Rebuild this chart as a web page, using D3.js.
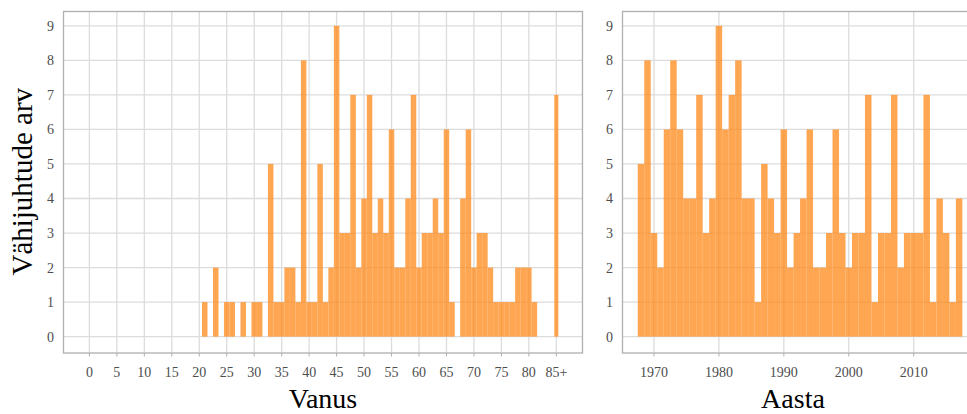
<!DOCTYPE html>
<html><head><meta charset="utf-8">
<script src="https://cdn.jsdelivr.net/npm/d3@7"></script>
<style>body{margin:0;background:#fff}</style>
</head><body>
<svg id="c" width="967" height="414"></svg>
<script>
// Left panel: age (85 = "85+")
const ageBins = [21,22,23,24,25,26,27,28,29,30,31,32,33,34,35,36,37,38,39,40,41,42,43,44,45,46,47,48,49,50,51,52,53,54,55,56,57,58,59,60,61,62,63,64,65,66,67,68,69,70,71,72,73,74,75,76,77,78,79,80,81,85];
const ageCounts = [1,0,2,0,1,1,0,1,0,1,1,0,5,1,1,2,2,1,8,1,1,5,1,2,9,3,3,7,2,4,7,3,4,3,6,2,2,4,7,2,3,3,4,3,6,1,0,4,6,2,3,3,2,1,1,1,1,2,2,2,1,7];
const ageTicks = [0,5,10,15,20,25,30,35,40,45,50,55,60,65,70,75,80,85];
const ageTickLabels = ["0","5","10","15","20","25","30","35","40","45","50","55","60","65","70","75","80","85+"];

// Right panel: year
const yearBins = [1968,1969,1970,1971,1972,1973,1974,1975,1976,1977,1978,1979,1980,1981,1982,1983,1984,1985,1986,1987,1988,1989,1990,1991,1992,1993,1994,1995,1996,1997,1998,1999,2000,2001,2002,2003,2004,2005,2006,2007,2008,2009,2010,2011,2012,2013,2014,2015,2016,2017];
const yearCounts = [5,8,3,2,6,8,6,4,4,7,3,4,9,6,7,8,4,4,1,5,4,3,6,2,3,4,6,2,2,3,6,3,2,3,3,7,1,3,3,7,2,3,3,3,7,1,4,3,1,4];
const yearTicks = [1970,1980,1990,2000,2010];

const countTicks = [0,1,2,3,4,5,6,7,8,9];
const yTitle = "Vähijuhtude arv";
const xTitleLeft = "Vanus";
const xTitleRight = "Aasta";

const svg = d3.select("#c");
const pTop = 11, pBottom = 352.5;
const y = d3.scaleLinear().domain([-0.46, 9.43]).range([pBottom, pTop]);

const gridCol = "#dcdcdc", borderCol = "#b0b0b0", labCol = "#4d4d4d";
const barFill = "#ff8a1c", barOp = 0.76;
const serif = "'Liberation Serif','Times New Roman',serif";

function panel(x, bins, counts, ticks, labels, left, right, borderRight, title, narrowLast) {
  const g = svg.append("g");
  g.selectAll("line.h").data(countTicks).join("line")
    .attr("x1", left).attr("x2", borderRight)
    .attr("y1", d => y(d)).attr("y2", d => y(d))
    .attr("stroke", gridCol).attr("stroke-width", 1.3);
  g.selectAll("line.v").data(ticks).join("line")
    .attr("y1", pTop).attr("y2", pBottom)
    .attr("x1", d => x(d)).attr("x2", d => x(d))
    .attr("stroke", gridCol).attr("stroke-width", 1.3);
  const data = bins.map((b, i) => ({b, c: counts[i], last: narrowLast && i === bins.length - 1}));
  g.selectAll("rect.bar").data(data.filter(d => d.c > 0)).join("rect")
    .attr("x", d => d.last ? x(d.b - 0.37) : x(d.b - 0.5))
    .attr("width", d => d.last ? x(d.b + 0.37) - x(d.b - 0.37) : x(d.b + 0.5) - x(d.b - 0.5))
    .attr("y", d => y(d.c)).attr("height", d => y(0) - y(d.c))
    .attr("fill", barFill).attr("fill-opacity", barOp);
  g.append("rect").attr("x", left + 0.5).attr("y", pTop + 0.5)
    .attr("width", borderRight - left - 1).attr("height", pBottom - pTop)
    .attr("fill", "none").attr("stroke", borderCol).attr("stroke-width", 1.3);
  g.selectAll("line.t").data(ticks).join("line")
    .attr("x1", d => x(d)).attr("x2", d => x(d))
    .attr("y1", pBottom + 0.5).attr("y2", pBottom + 4)
    .attr("stroke", borderCol).attr("stroke-width", 1);
  g.selectAll("text.xl").data(ticks).join("text")
    .attr("x", d => x(d)).attr("y", 377)
    .attr("text-anchor", "middle").attr("font-family", serif).attr("font-size", 14)
    .attr("fill", labCol).text((d, i) => labels[i]);
  g.selectAll("text.yl").data(countTicks).join("text")
    .attr("x", left - 9).attr("y", d => y(d) + 5)
    .attr("text-anchor", "end").attr("font-family", serif).attr("font-size", 14)
    .attr("fill", labCol).text(d => d);
  g.append("text").attr("x", (left + right) / 2).attr("y", 408)
    .attr("text-anchor", "middle").attr("font-family", serif).attr("font-size", 28)
    .attr("fill", "#000").text(title);
}

const xAge = d3.scaleLinear().domain([-4.75, 89.8]).range([63.3, 582.7]);
panel(xAge, ageBins, ageCounts, ageTicks, ageTickLabels, 63, 583, 583, xTitleLeft, true);

const xYear = d3.scaleLinear().domain([1965.12, 2017.75]).range([622.3, 964]);
panel(xYear, yearBins, yearCounts, yearTicks, yearTicks.map(String), 622, 964, 972, xTitleRight, false);

svg.append("text").attr("transform", "translate(32," + ((pTop + pBottom) / 2) + ") rotate(-90)")
  .attr("text-anchor", "middle").attr("font-family", serif).attr("font-size", 29)
  .attr("fill", "#000").text(yTitle);
</script>
</body></html>
